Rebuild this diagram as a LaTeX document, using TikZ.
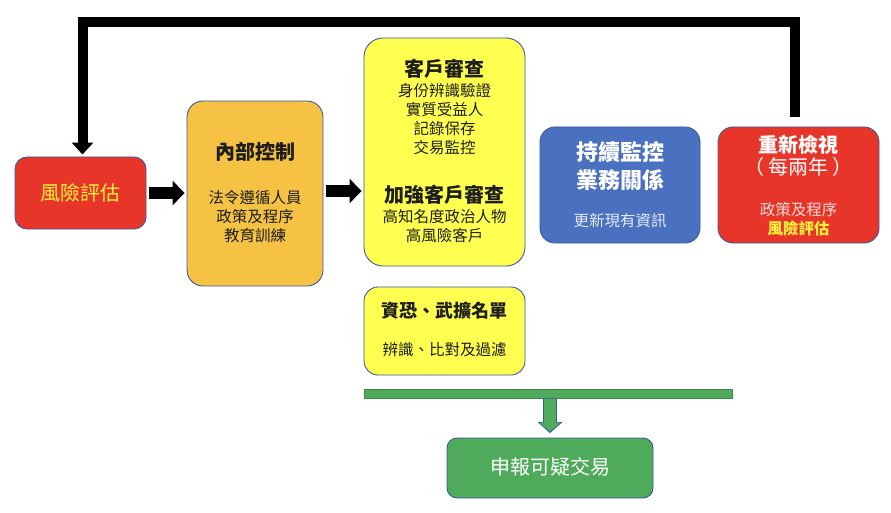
\documentclass[tikz,border=0pt]{standalone}
\usepackage{fontspec}
\setmainfont{Noto Sans CJK TC}
\usetikzlibrary{arrows.meta,calc}
\definecolor{cred}{HTML}{E8352A}
\definecolor{corange}{HTML}{F5C243}
\definecolor{cyellow}{HTML}{FFFF50}
\definecolor{cblue}{HTML}{4A71BF}
\definecolor{cgreen}{HTML}{4FAB5B}
\definecolor{cedge}{HTML}{3B5C98}
\definecolor{ctext}{HTML}{1E1E1E}
\definecolor{cytext}{HTML}{FFF23A}
\definecolor{clight}{HTML}{E4E9F4}
\definecolor{cpink}{HTML}{FADDD6}
\tikzset{
  box/.style={draw=cedge, line width=0.9pt, rectangle, inner sep=0pt},
  txt/.style={inner sep=0pt, align=center, text=ctext},
  ttl/.style={font=\bfseries\fontsize{20}{24}\selectfont},
  bdy/.style={font=\fontsize{15.5}{19}\selectfont},
  blkarrow/.style={line width=11.5pt, black, -{Triangle[width=24pt,length=12pt]}},
  fbarrow/.style={line width=10pt, black, line join=miter, -{Triangle[width=21pt,length=12pt]}},
}
\begin{document}
\begin{tikzpicture}[x=1pt,y=-1pt]
\path[use as bounding box, fill=white] (0,0) rectangle (891,513);

% boxes
\node[box, fill=cred, rounded corners=12pt, minimum width=131pt, minimum height=72pt] (risk) at (80.5,193) {};
\node[box, fill=corange, rounded corners=16pt, minimum width=136pt, minimum height=185pt] (ic) at (255,193.5) {};
\node[box, fill=cyellow, rounded corners=19pt, minimum width=161pt, minimum height=228pt] (cdd) at (444.5,152) {};
\node[box, fill=cyellow, rounded corners=14pt, minimum width=161pt, minimum height=88pt] (sanc) at (444.5,331) {};
\node[box, fill=cblue, rounded corners=15pt, minimum width=160pt, minimum height=116pt] (mon) at (620,185) {};
\node[box, fill=cred, rounded corners=15pt, minimum width=161pt, minimum height=116pt] (rev) at (798.5,185) {};
\node[draw=cgreen!80!black, line width=0.6pt, fill=cgreen, rectangle, inner sep=0pt, minimum width=368pt, minimum height=9pt] (gbar) at (548,393.5) {};
\node[box, fill=cgreen, rounded corners=10pt, minimum width=206pt, minimum height=60pt] (report) at (550,468) {};

% texts
\node[txt, text=cytext, font=\fontsize{20}{24}\selectfont] (t1) at (80.5,193) {風險評估};

\node[txt, ttl] (t2) at (255,152) {內部控制};
\node[txt, bdy] (t3) at (255,217) {法令遵循人員\\政策及程序\\教育訓練};

\node[txt, ttl] (t4) at (444.5,69) {客戶審查};
\node[txt, bdy] (t5) at (444.5,119.5) {身份辨識驗證\\實質受益人\\記錄保存\\交易監控};
\node[txt, ttl] (t6) at (444.5,195) {加強客戶審查};
\node[txt, bdy] (t7) at (444.5,226) {高知名度政治人物\\高風險客戶};

\node[txt, font=\bfseries\fontsize{18}{22}\selectfont] (t8) at (444.5,311) {資恐、武擴名單};
\node[txt, bdy] (t9) at (444.5,350) {辨識、比對及過濾};

\node[txt, text=white, font=\bfseries\fontsize{22}{28}\selectfont] (t10) at (620,166) {持續監控\\業務關係};
\node[txt, bdy, text=clight] (t11) at (620,221) {更新現有資訊};

\node[txt, text=white, ttl] (t12) at (798.5,145) {重新檢視};
\node[txt, text=white, font=\fontsize{20}{24}\selectfont] (t13) at (798.5,167) {（\hspace{4pt}每兩年\hspace{4pt}）};
\node[txt, bdy, text=cpink] (t14) at (798.5,210) {政策及程序};
\node[txt, text=cytext, font=\bfseries\fontsize{15.5}{19}\selectfont] (t15) at (798.5,229) {風險評估};

\node[txt, text=white, font=\fontsize{20}{24}\selectfont] (t16) at (550,467) {申報可疑交易};

% connectors
\coordinate (topR) at (794.5,22);
\coordinate (topL) at (82.5,22);
\draw[fbarrow, shorten <=10pt, shorten >=2pt] (rev.north -| topR) -- (topR) -- (topL) -- (risk.north -| topL);

\draw[blkarrow] ([xshift=3pt]risk.east) -- ([xshift=-2pt]risk.east -| ic.west);
\draw[blkarrow] ([xshift=3pt,yshift=2.5pt]ic.east) -- ([xshift=-2pt,yshift=2.5pt]ic.east -| cdd.west);

\coordinate (gs) at (report.north |- gbar.south);
\draw[cedge, line width=0.8pt, fill=cgreen, line join=miter]
  ($(gs)+(-6.5,0)$) -- ++(0,24) -- ++(-5,0) -- ($(report.north)+(0,-5)$)
  -- ($(gs)+(11.5,24)$) -- ++(-5,0) -- ($(gs)+(6.5,0)$) -- cycle;
\end{tikzpicture}
\end{document}
